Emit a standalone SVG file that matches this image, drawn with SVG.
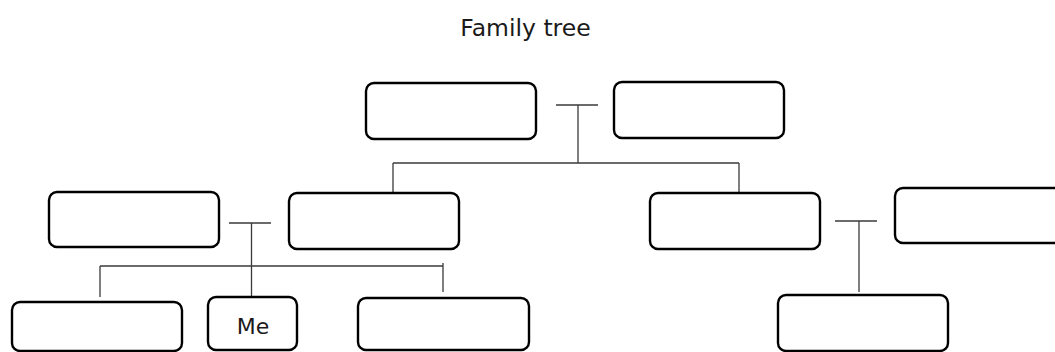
<svg xmlns="http://www.w3.org/2000/svg" width="1055" height="352" viewBox="0 0 1055 352">
  <style>
    .box { fill: #ffffff; stroke: #000000; stroke-width: 2.4; }
    .conn line { stroke: #3a3a3a; stroke-width: 1.3; }
    .txt { font-family: "DejaVu Sans", "Noto Sans", sans-serif; fill: #1a1a1a; text-anchor: middle; }
  </style>
  <rect width="1055" height="352" fill="#ffffff"/>
  <text class="txt" x="525.5" y="36" font-size="23.5">Family tree</text>

  <g id="connectors" class="conn">
    <line x1="556" y1="105" x2="598" y2="105"/>
    <line x1="578" y1="105" x2="578" y2="163"/>
    <line x1="393" y1="163" x2="739" y2="163"/>
    <line x1="393" y1="163" x2="393" y2="193"/>
    <line x1="739" y1="163" x2="739" y2="193"/>
    <line x1="229" y1="223" x2="271" y2="223"/>
    <line x1="251.5" y1="223" x2="251.5" y2="297"/>
    <line x1="100" y1="266" x2="443" y2="266"/>
    <line x1="100" y1="266" x2="100" y2="297"/>
    <line x1="443" y1="263" x2="443" y2="292"/>
    <line x1="835" y1="221" x2="877" y2="221"/>
    <line x1="859" y1="221" x2="859" y2="292"/>
  </g>

  <g id="grandparent1"><rect class="box" x="366" y="83" width="170" height="56" rx="8"/></g>
  <g id="grandparent2"><rect class="box" x="614" y="82" width="170" height="56" rx="8"/></g>
  <g id="parent-in-law"><rect class="box" x="49" y="192" width="170" height="55" rx="8"/></g>
  <g id="parent"><rect class="box" x="289" y="193" width="170" height="56" rx="8"/></g>
  <g id="aunt-uncle"><rect class="box" x="650" y="193" width="170" height="56" rx="8"/></g>
  <g id="aunt-uncle-spouse"><rect class="box" x="895" y="188" width="170" height="55" rx="8"/></g>
  <g id="sibling1"><rect class="box" x="12" y="302" width="170" height="49" rx="8"/></g>
  <g id="me">
    <rect class="box" x="208" y="297" width="89" height="53" rx="8"/>
    <text class="txt" x="253" y="334" font-size="22">Me</text>
  </g>
  <g id="sibling2"><rect class="box" x="358" y="298" width="171" height="52" rx="8"/></g>
  <g id="cousin"><rect class="box" x="778" y="295" width="170" height="56" rx="8"/></g>
</svg>
